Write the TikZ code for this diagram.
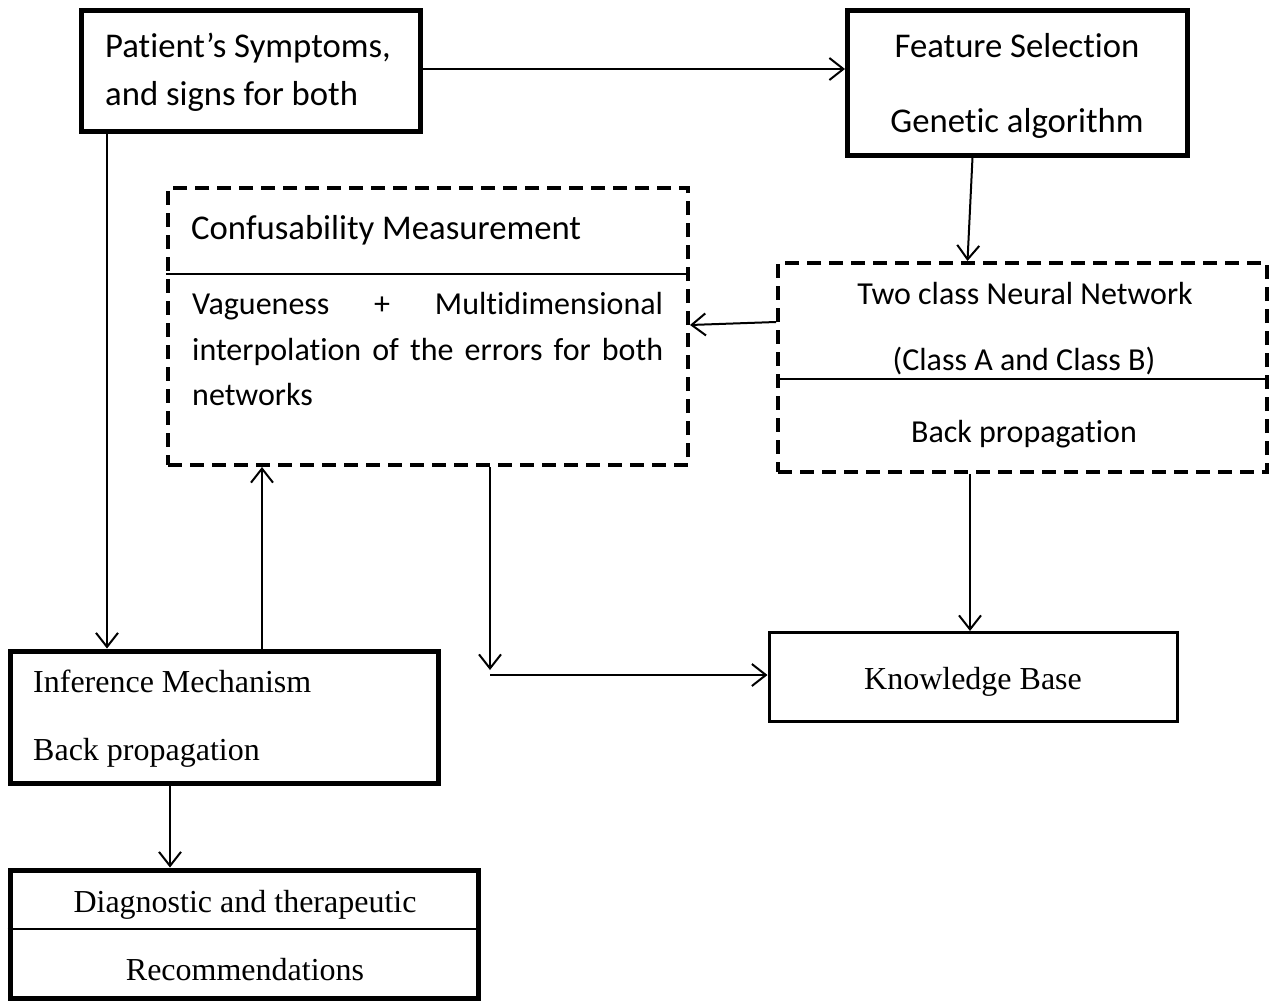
\documentclass[tikz,border=0pt]{standalone}
\usepackage{fontspec}
\setmainfont{Carlito}[Ligatures=NoCommon]
\newfontfamily\timesfont{Liberation Serif}
\usetikzlibrary{arrows.meta}
\tikzset{
  boxthick/.style={draw, line width=5pt, rectangle, inner sep=0pt},
  boxthin/.style={draw, line width=3pt, rectangle, inner sep=0pt},
  boxdash/.style={draw, line width=4pt, rectangle, inner sep=0pt, dash pattern=on 14pt off 8pt},
  conn/.style={line width=2pt, -{Straight Barb[length=14pt,width=22pt,line width=2pt]}},
  txt/.style={inner sep=0pt, font=\fontsize{34.7}{40}\selectfont, anchor=base},
  stxt/.style={inner sep=0pt, font=\fontsize{32}{38}\selectfont, anchor=base},
  ttxt/.style={inner sep=0pt, font=\timesfont\fontsize{32}{38}\selectfont, anchor=base},
  divider/.style={line width=1.5pt}
}
\begin{document}
\begin{tikzpicture}[x=1pt,y=-1pt]
\useasboundingbox (0,0) rectangle (1269,1001);
% boxes
\node[boxthick, minimum width=339pt, minimum height=121pt] (pat) at (250.5,70.5) {};
\node[boxthick, minimum width=340pt, minimum height=145pt] (feat) at (1017.5,82.5) {};
\node[boxdash, minimum width=520pt, minimum height=277pt] (conf) at (428,326.5) {};
\node[boxdash, minimum width=489pt, minimum height=209pt] (nn) at (1022.5,367.5) {};
\node[boxthin, minimum width=408pt, minimum height=89pt] (kb) at (973,677) {};
\node[boxthick, minimum width=428pt, minimum height=132pt] (inf) at (224,717) {};
\node[boxthick, minimum width=468pt, minimum height=128pt] (diag) at (244,934) {};
% dividers
\draw[divider] (conf.west |- 0,274) -- (conf.east |- 0,274);
\draw[divider] (nn.west |- 0,379) -- (nn.east |- 0,379);
\draw[divider] (diag.west |- 0,929) -- (diag.east |- 0,929);
% texts
\node[txt, anchor=base west] (pat1) at (105,57) {Patient’s Symptoms,};
\node[txt, anchor=base west] (pat2) at (105,105) {and signs for both};
\node[txt] (feat1) at (1017,57) {Feature Selection};
\node[txt] (feat2) at (1017,132) {Genetic algorithm};
\node[txt, anchor=base west] (conf1) at (191,239) {Confusability Measurement};
\node[stxt, anchor=base west] (conf2) at (192,314) {\makebox[471pt][s]{Vagueness\hfill+\hfill Multidimensional}};
\node[stxt, anchor=base west] (conf3) at (192,360) {\makebox[471pt][s]{interpolation of the errors for both}};
\node[stxt, anchor=base west] (conf4) at (192,405) {networks};
\node[stxt] (nn1) at (1025,304) {Two class Neural Network};
\node[stxt] (nn2) at (1024,370) {(Class A and Class B)};
\node[stxt] (nn3) at (1024,442) {Back propagation};
\node[ttxt] (kb1) at (973,689) {Knowledge Base};
\node[ttxt, anchor=base west] (inf1) at (33,692) {Inference Mechanism};
\node[ttxt, anchor=base west] (inf2) at (33,760) {Back propagation};
\node[ttxt] (diag1) at (245,912) {Diagnostic and therapeutic};
\node[ttxt] (diag2) at (245,980) {Recommendations};
% connectors
\coordinate (cor) at (490,675);
\draw[conn] (pat.east |- 0,69) -- (feat.west |- 0,69);
\draw[conn] ([xshift=-45pt]feat.south) -- ([xshift=-55pt]nn.north);
\draw[conn] (nn.west |- 0,322) -- (conf.east |- 0,325);
\draw[conn] (nn.south -| 970,0) -- (kb.north -| 970,0);
\draw[conn] (conf.south -| 490,0) -- (490,670);
\draw[conn] (cor) -- (kb.west |- cor);
\draw[conn] (inf.north -| 262,0) -- (conf.south -| 262,0);
\draw[conn] (pat.south -| 107,0) -- (inf.north -| 107,0);
\draw[conn] (inf.south -| 170,0) -- (diag.north -| 170,0);
\end{tikzpicture}
\end{document}
